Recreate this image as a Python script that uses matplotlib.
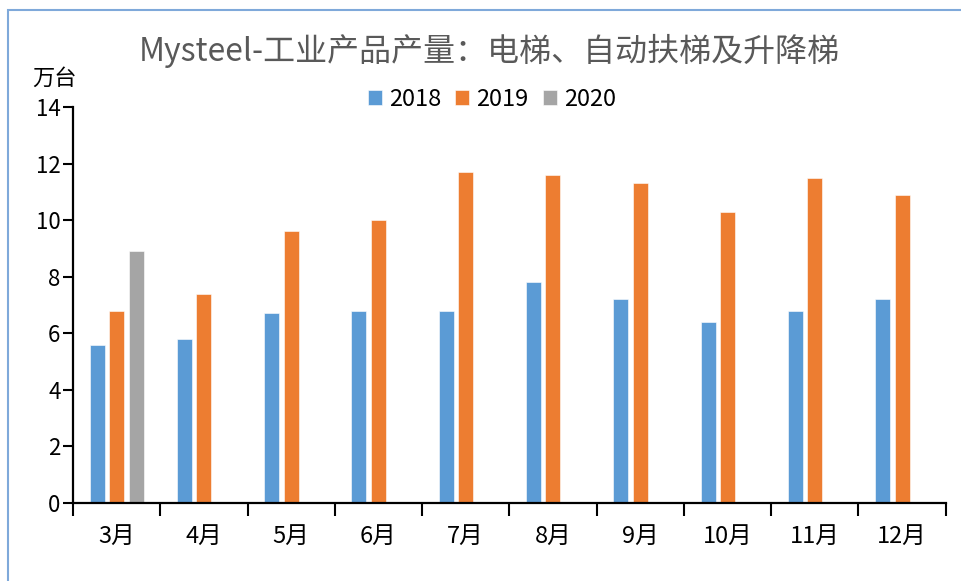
import matplotlib
matplotlib.use("Agg")
import matplotlib.pyplot as plt
import numpy as np
from matplotlib.patches import Rectangle

plt.rcParams["font.family"] = ["Noto Sans CJK SC", "DejaVu Sans"]

# data (万台)
months = ["3月", "4月", "5月", "6月", "7月", "8月", "9月", "10月", "11月", "12月"]
y2018 = [5.6, 5.8, 6.7, 6.8, 6.8, 7.8, 7.2, 6.4, 6.8, 7.2]
y2019 = [6.8, 7.4, 9.6, 10.0, 11.7, 11.6, 11.3, 10.3, 11.5, 10.9]
y2020 = [8.9]  # only March so far

series = [("2018", y2018, "#5B9BD5"), ("2019", y2019, "#ED7D31"), ("2020", y2020, "#A5A5A5")]

fig = plt.figure(figsize=(9.62, 5.81), dpi=100)
ax = fig.add_axes([0.0759, 0.1343, 0.9071, 0.6815])

# blue frame around the chart (right/bottom cut off in the reference)
fig.patches.append(Rectangle((8 / 962, -0.1), 1.2, 1 - 10 / 581 + 0.1, transform=fig.transFigure,
                             fill=False, edgecolor="#7FA9DA", linewidth=1.5))

x = np.arange(len(months))
width = 0.172
step = 0.223
for i, (name, vals, color) in enumerate(series):
    xs = x[:len(vals)] + (i - 1) * step
    ax.bar(xs, vals, width=width, color=color, label=name, edgecolor="white", linewidth=0.4)

ax.set_xlim(-0.5, len(months) - 0.5)
ax.set_ylim(0, 14)
ax.set_yticks(np.arange(0, 15, 2))
ax.set_xticks(np.arange(-0.5, len(months), 1.0))
ax.set_xticklabels([])
ax.set_xticks(x, minor=True)
ax.set_xticklabels(months, minor=True)
ax.tick_params(axis="x", which="major", direction="out", length=9, width=1.5)
ax.tick_params(axis="x", which="minor", length=0, pad=16, labelsize=17)
ax.tick_params(axis="y", direction="out", length=7, width=1.5, labelsize=16, pad=2)

for s in ["top", "right"]:
    ax.spines[s].set_visible(False)
for s in ["left", "bottom"]:
    ax.spines[s].set_linewidth(1.6)
    ax.spines[s].set_color("black")

fig.text(0.509, 0.912, "Mysteel-工业产品产量：电梯、自动扶梯及升降梯", ha="center", va="center",
         fontsize=23, color="#595959")
fig.text(0.057, 0.865, "万台", ha="center", va="center", fontsize=16, color="black")

ax.legend(loc="center", bbox_to_anchor=(0.48, 1.02), ncol=3, frameon=False, fontsize=17,
          handlelength=0.6, handleheight=0.6, handletextpad=0.3, columnspacing=0.6)

fig.savefig("out.png", dpi=100)
